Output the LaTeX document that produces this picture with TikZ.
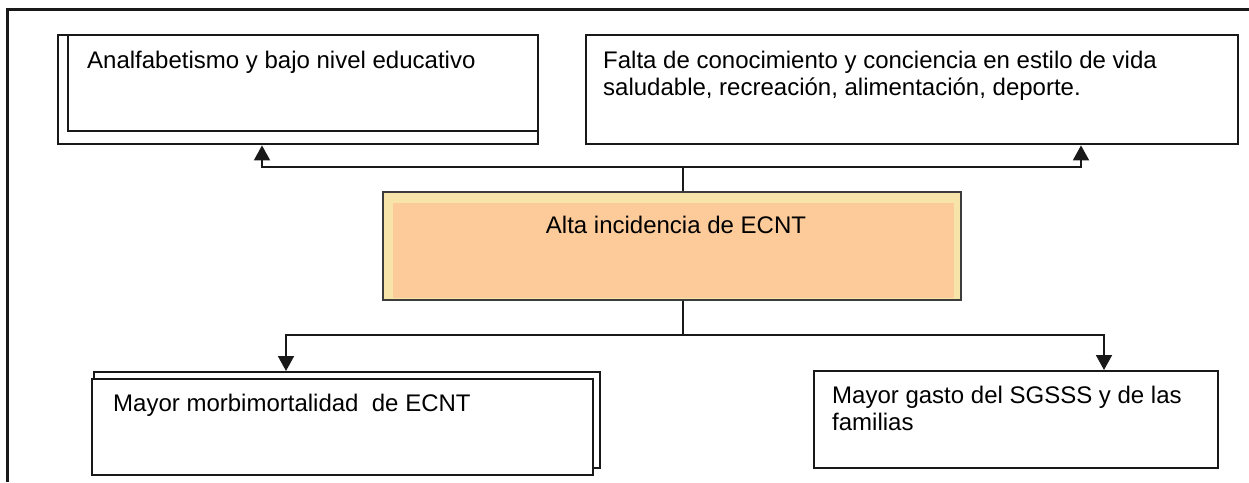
\documentclass[tikz,border=0pt]{standalone}
\usepackage{fontspec}
\setmainfont{Liberation Sans}
\usetikzlibrary{arrows.meta}
\definecolor{boxyellow}{RGB}{247,228,168}
\definecolor{boxorange}{RGB}{253,203,153}
\definecolor{darkline}{RGB}{25,25,25}
\tikzset{
  rectbox/.style={draw=darkline, line width=2.4pt, fill=white, rectangle, inner sep=0pt, anchor=north west},
  centrebox/.style={draw=darkline!85, line width=2.4pt, fill=boxyellow, rectangle, inner sep=0pt, anchor=north west},
  innerfill/.style={fill=boxorange, draw=none, rectangle, inner sep=0pt, anchor=north west},
  txt/.style={anchor=base west, inner sep=0pt, font=\fontsize{24}{27}\selectfont},
  ctxt/.style={anchor=base, inner sep=0pt, font=\fontsize{24}{27}\selectfont},
  conn/.style={draw=darkline, line width=1.8pt},
  arr/.style={conn, -{Triangle[width=16pt,length=15pt]}},
  frameline/.style={draw=darkline, line width=3pt}
}
\begin{document}
\begin{tikzpicture}[x=1pt,y=-1pt]
\useasboundingbox (0,0) rectangle (1249,482);
% outer frame
\draw[frameline] (7.5,482) -- (7.5,9.5) -- (1249,9.5);

% top left double box
\node[rectbox, minimum width=480pt, minimum height=109pt] (ltb) at (57,34) {};
\node[rectbox, minimum width=470pt, minimum height=96pt] (lt) at (67,34) {};
\node[txt] (ltt) at (87,68) {Analfabetismo y bajo nivel educativo};

% top right box
\node[rectbox, minimum width=652pt, minimum height=109pt] (rt) at (585,34) {};
\node[txt] (rtt1) at (603,68) {Falta de conocimiento y conciencia en estilo de vida};
\node[txt] (rtt2) at (603,95) {saludable, recreación, alimentación, deporte.};

% centre box
\node[centrebox, minimum width=578pt, minimum height=108pt] (c) at (382,191) {};
\node[innerfill, minimum width=561pt, minimum height=95pt] (ci) at (393,203) {};
\node[ctxt] (ct) at (676,233) {Alta incidencia de ECNT};

% bottom left double box
\node[rectbox, minimum width=506pt, minimum height=96pt] (lbb) at (93,371) {};
\node[rectbox, minimum width=501pt, minimum height=96pt] (lb) at (91,378) {};
\node[txt] (lbt) at (113,411) {Mayor morbimortalidad\ \ de ECNT};

% bottom right box
\node[rectbox, minimum width=404pt, minimum height=97pt] (rb) at (813,370) {};
\node[txt] (rbt1) at (832,403) {Mayor gasto del SGSSS y de las};
\node[txt] (rbt2) at (832,430) {familias};

% connector coordinates
\coordinate (tj) at (683,167);
\coordinate (bj) at (683,335);
\coordinate (la) at (262,0);
\coordinate (ra) at (1081,0);
\coordinate (lba) at (286,0);
\coordinate (rba) at (1104,0);

% top connectors
\draw[conn] (tj |- c.north) -- (tj);
\draw[arr] (tj) -| (la |- ltb.south);
\draw[arr] (tj) -| (ra |- rt.south);

% bottom connectors
\draw[conn] (bj |- c.south) -- (bj);
\draw[arr] (bj) -| (lba |- lbb.north);
\draw[arr] (bj) -| (rba |- rb.north);
\end{tikzpicture}
\end{document}
